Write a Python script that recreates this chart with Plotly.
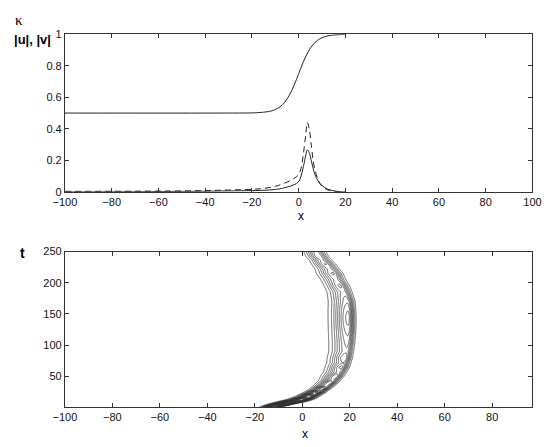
import numpy as np
import plotly.graph_objects as go

# ---- top panel: kappa and |u|, |v| profiles ----
kappa_x = [-100, -30, -20, -16, -12, -10, -8, -6, -4, -2, 0, 2, 4, 6, 8, 10, 12, 14, 16, 18, 20]
kappa_y = [0.5, 0.5, 0.501, 0.504, 0.512, 0.522, 0.539, 0.568, 0.613, 0.675, 0.75,
           0.825, 0.887, 0.932, 0.961, 0.978, 0.988, 0.994, 0.996, 0.998, 1.0]

u_x = [-100, -60, -40, -30, -20, -15, -10, -5, -2, 0, 1, 2, 3, 3.7, 4.5, 5.5, 6.5, 7.5, 9, 10, 12, 14, 16, 18, 20]
u_y = [0.0, 0.002, 0.004, 0.006, 0.008, 0.01, 0.015, 0.03, 0.045, 0.065, 0.10, 0.16, 0.23, 0.267,
       0.25, 0.19, 0.13, 0.09, 0.055, 0.04, 0.02, 0.01, 0.004, 0.001, 0.0]

v_x = [-100, -80, -60, -40, -30, -20, -15, -10, -5, -2, 0, 1, 2, 3, 3.7, 4.5, 5.5, 6.5, 7.5, 9, 10, 12, 14, 16, 20]
v_y = [0.003, 0.004, 0.005, 0.008, 0.012, 0.016, 0.022, 0.035, 0.062, 0.085, 0.11, 0.15, 0.24, 0.36,
       0.44, 0.40, 0.28, 0.17, 0.11, 0.055, 0.035, 0.015, 0.006, 0.002, 0.0]

# ---- bottom panel: ridge of the contour map, read along t ----
ridge_t = [0, 2.5, 5, 7.5, 10, 12.5, 15, 17.5, 20, 22.5, 25, 28, 31, 35, 40, 45, 50, 57, 65, 72,
           80, 90, 105, 120, 135, 145, 155, 170, 185, 195, 205, 215, 222, 230, 236, 242, 250]
ridge_x = [-13.5, -11.5, -9, -6, -3, -0.5, 1.2, 2.6, 3.7, 5, 6.2, 7.5, 8.6, 10, 11.6, 12.9, 14, 15.4, 16.6, 17.3,
           18, 18.6, 19.1, 19.3, 19.4, 19.4, 19.3, 19, 17.5, 16, 14.3, 13, 11.6, 9.8, 8.4, 7, 5.8]
ridge_wl = [3.0, 3.3, 3.6, 4.0, 4.2, 4.0, 3.8, 3.6, 3.5, 3.5, 3.4, 3.4, 3.4, 3.6, 3.8, 4.0, 4.3, 4.6, 4.8, 5.0,
            5.2, 5.4, 5.6, 5.7, 5.7, 5.7, 5.7, 5.6, 5.2, 4.8, 4.8, 5.0, 4.6, 4.2, 4.0, 3.9, 3.8]
ridge_wr = [2.5, 2.5, 2.6, 2.7, 2.8, 2.8, 2.8, 2.7, 2.6, 2.6, 2.5, 2.4, 2.4, 2.4, 2.4, 2.4, 2.4, 2.4, 2.3, 2.3,
            2.2, 2.2, 2.2, 2.2, 2.2, 2.2, 2.2, 2.3, 2.6, 2.8, 3.0, 3.0, 3.0, 3.0, 3.0, 3.0, 3.0]
ridge_amp = [22, 19, 21, 18, 19.5, 16.5, 17.5, 14.5, 15.5, 12.5, 13.5, 11, 12, 9.5, 10, 8.3, 9, 7.2, 8.4, 7,
             8, 6.7, 7.4, 8.3, 9.2, 9.4, 9.0, 7.8, 6.4, 7.3, 6.3, 7.2, 6.3, 7.1, 6.2, 7.0, 6.5]

# field built from the ridge values
gx = np.arange(-35, 40.01, 0.25)
gt = np.arange(0, 250.01, 0.5)
c = np.interp(gt, ridge_t, ridge_x)[:, None]
wl = np.interp(gt, ridge_t, ridge_wl)[:, None]
wr = np.interp(gt, ridge_t, ridge_wr)[:, None]
amp = np.interp(gt, ridge_t, ridge_amp)[:, None]
X = gx[None, :]
W = np.where(X < c, wl, wr)
Z = amp * np.exp(-((X - c) / W) ** 2)

fig = go.Figure()
fig.add_trace(go.Scatter(x=kappa_x, y=kappa_y, mode="lines", line=dict(color="#222", width=1, shape="spline"),
                         xaxis="x", yaxis="y", showlegend=False))
fig.add_trace(go.Scatter(x=u_x, y=u_y, mode="lines", line=dict(color="#222", width=1, shape="spline"),
                         xaxis="x", yaxis="y", showlegend=False))
fig.add_trace(go.Scatter(x=v_x, y=v_y, mode="lines", line=dict(color="#222", width=1, dash="6px,4px", shape="spline"),
                         xaxis="x", yaxis="y", showlegend=False))
fig.add_trace(go.Contour(x=gx, y=gt, z=Z, xaxis="x2", yaxis="y2", showscale=False,
                         contours=dict(coloring="lines", start=1, end=30, size=1),
                         colorscale=[[0, "#383838"], [1, "#383838"]],
                         line=dict(width=0.8), hoverinfo="skip"))

W_, H_ = 554, 447
axstyle = dict(showline=True, linecolor="#333", linewidth=1, mirror="ticks", ticks="inside",
               ticklen=4, tickcolor="#333", showgrid=False, zeroline=False,
               tickfont=dict(family="Liberation Sans, Arial", size=11, color="#111"))

fig.update_layout(
    width=W_, height=H_, margin=dict(l=0, r=0, t=0, b=0),
    plot_bgcolor="white", paper_bgcolor="white",
    xaxis=dict(domain=[55 / W_, 541 / W_], range=[-100, 100], dtick=20, anchor="y", **axstyle),
    yaxis=dict(domain=[1 - 191 / H_, 1 - 29 / H_], range=[0, 1], dtick=0.2, anchor="x", **axstyle),
    xaxis2=dict(domain=[55 / W_, 541 / W_], range=[-100, 97], tickvals=list(range(-100, 81, 20)),
                anchor="y2", **axstyle),
    yaxis2=dict(domain=[1 - 411.7 / H_, 1 - 252.3 / H_], range=[1.7, 250], tickvals=[50, 100, 150, 200, 250],
                anchor="x2", **axstyle),
)

def label(text, px, py, size, family="Liberation Sans, Arial", xanchor="center"):
    fig.add_annotation(text=text, x=px / W_, y=1 - py / H_, xref="paper", yref="paper",
                       showarrow=False, xanchor=xanchor, yanchor="middle",
                       font=dict(family=family, size=size, color="#000"))

label("κ", 7, 14, 15, family="Liberation Serif, Times New Roman")
label("<b>|u|, |v|</b>", 0, 34, 13, xanchor="left")
label("<b>t</b>", 11, 254, 14)
label("x", 300, 216, 12)
label("x", 305, 440, 12)

# page body has a default margin; drop it so the figure sits at the corner
fig.write_html("out.html", config={"displayModeBar": False},
               post_script="document.body.style.margin='0';")
